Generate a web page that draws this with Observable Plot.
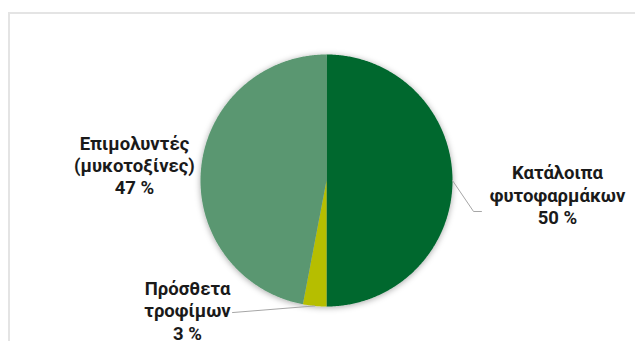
<!DOCTYPE html>
<html><head><meta charset="utf-8">
<script src="https://cdn.jsdelivr.net/npm/d3@7"></script>
<script src="https://cdn.jsdelivr.net/npm/@observablehq/plot@0.6"></script>
<style>
html,body{margin:0;padding:0;background:#fff;}
#wrap{position:relative;width:635px;height:341px;overflow:hidden;}
#frame{position:absolute;left:8px;top:12px;width:700px;height:400px;border:2px solid #e4e4e4;box-sizing:border-box;}
#chart{position:absolute;left:0;top:0;}
</style></head>
<body><div id="wrap"><div id="frame"></div><div id="chart"></div></div>
<script>
// Data
const categories = ["Κατάλοιπα φυτοφαρμάκων", "Πρόσθετα τροφίμων", "Επιμολυντές (μυκοτοξίνες)"];
const labelLines = [["Κατάλοιπα", "φυτοφαρμάκων"], ["Πρόσθετα", "τροφίμων"], ["Επιμολυντές", "(μυκοτοξίνες)"]];
const values = [50, 3, 47];
const colors = ["#05672f", "#b6be00", "#5a9771"];

// Layout (in pie-radius units, relative to pie centre)
const W = 635, H = 341, R = 126, CX = 326, CY = 180;
const labelPos = [[1.833, -0.111], [-1.103, -1.03], [-1.524, 0.125]];
const leaderBends = [[[1.167, -0.246], [1.230, -0.246]], [[-0.746, -1.048]], null];

const total = d3.sum(values);
const pts = [];
const slices = [];
let acc = 0;
values.forEach((v, i) => {
  const a0 = acc / total * 2 * Math.PI;
  acc += v;
  const a1 = acc / total * 2 * Math.PI;
  slices.push({i, a0, a1, mid: (a0 + a1) / 2});
  pts.push({x: 0, y: 0, cat: categories[i]});
  const n = Math.max(2, Math.ceil((a1 - a0) / (Math.PI / 360)));
  for (let k = 0; k <= n; k++) {
    const a = a0 + (a1 - a0) * k / n;
    pts.push({x: Math.sin(a), y: Math.cos(a), cat: categories[i]});
  }
  pts.push({x: 0, y: 0, cat: categories[i]});
});

const leaders = [];
slices.forEach(s => {
  const b = leaderBends[s.i];
  if (!b) return;
  leaders.push({x: Math.sin(s.mid), y: Math.cos(s.mid), id: s.i});
  b.forEach(p => leaders.push({x: p[0], y: p[1], id: s.i}));
});

const labels = slices.map(s => ({
  x: labelPos[s.i][0], y: labelPos[s.i][1],
  text: labelLines[s.i].join("\n") + "\n" + values[s.i] + " %"
}));

const plot = Plot.plot({
  width: W, height: H, margin: 0,
  x: {domain: [-CX / R, (W - CX) / R], range: [0, W], axis: null},
  y: {domain: [-(H - CY) / R, CY / R], range: [H, 0], axis: null},
  color: {domain: categories, range: colors},
  style: {background: "transparent", overflow: "visible"},
  marks: [
    Plot.line(pts, {x: "x", y: "y", z: "cat", fill: "cat", stroke: "none", curve: "linear"}),
    Plot.line(leaders, {x: "x", y: "y", z: "id", stroke: "#a6a6a6", strokeWidth: 1, curve: "linear"}),
    Plot.text(labels, {x: "x", y: "y", text: "text", fontFamily: "Roboto", fontWeight: "bold", fontSize: 18.5, lineHeight: 1.2, fill: "#1a1a1a"})
  ]
});
document.getElementById("chart").appendChild(plot);

// soft shadow under the pie
const ns = "http://www.w3.org/2000/svg";
const defs = document.createElementNS(ns, "defs");
defs.innerHTML = '<filter id="pieShadow" x="-20%" y="-20%" width="140%" height="140%"><feDropShadow dx="0" dy="1" stdDeviation="3" flood-color="#000" flood-opacity="0.35"/></filter>';
plot.insertBefore(defs, plot.firstChild);
const pieG = plot.querySelector('g[aria-label="line"]');
if (pieG) pieG.setAttribute("filter", "url(#pieShadow)");
</script>
</body></html>
